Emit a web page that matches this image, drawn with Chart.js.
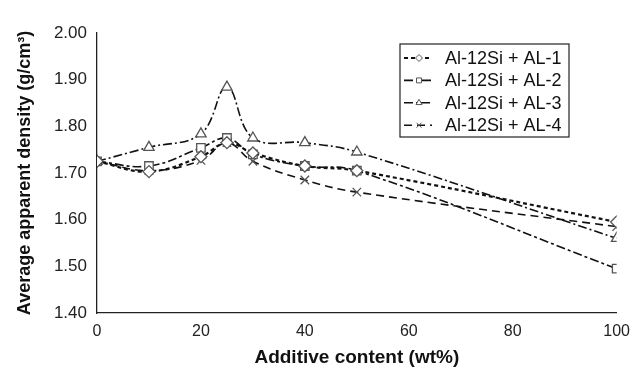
<!DOCTYPE html>
<html>
<head>
<meta charset="utf-8">
<script src="https://cdn.jsdelivr.net/npm/chart.js@4"></script>
<style>
  html, body { margin: 0; padding: 0; background: #fff; }
  #wrap { width: 634px; height: 373px; }
</style>
</head>
<body>
<div id="wrap"><canvas id="densityChart" width="634" height="373"></canvas></div>
<script>
// additive content (wt%)
const additive = [0, 10, 20, 25, 30, 40, 50, 100];

// average apparent density (g/cm3) for each mix
const al1 = [1.725, 1.703, 1.735, 1.765, 1.743, 1.715, 1.705, 1.595];
const al2 = [1.725, 1.715, 1.754, 1.775, 1.740, 1.715, 1.705, 1.495];
const al3 = [1.725, 1.755, 1.784, 1.884, 1.775, 1.765, 1.745, 1.560];
const al4 = [1.725, 1.705, 1.727, 1.765, 1.725, 1.685, 1.659, 1.585];

const seriesNames = ["Al-12Si + AL-1", "Al-12Si + AL-2", "Al-12Si + AL-3", "Al-12Si + AL-4"];
const xTicks = [0, 20, 40, 60, 80, 100];
const yTicks = [1.4, 1.5, 1.6, 1.7, 1.8, 1.9, 2.0];

const FONT = "'Liberation Sans', Arial, sans-serif";

function toPoints(values) {
  return additive.map((x, i) => ({ x: x, y: values[i] }));
}

const styles = [
  { dash: [4, 3], point: "rectRot", width: 2.2 },
  { dash: [9, 3, 3, 3], point: "rect", width: 1.6 },
  { dash: [9, 3, 2, 3], point: "triangle", width: 1.6 },
  { dash: [8, 5], point: "crossRot", width: 1.6 }
];

const datasets = [al1, al2, al3, al4].map((vals, i) => ({
  label: seriesNames[i],
  data: toPoints(vals),
  borderColor: "#111",
  borderWidth: styles[i].width,
  borderDash: styles[i].dash,
  tension: 0.4,
  pointStyle: styles[i].point,
  pointRadius: 6,
  pointBackgroundColor: "#fff",
  pointBorderColor: "#555",
  pointBorderWidth: 1.3
}));

// legend box drawn inside the plot, like the original figure
const boxLegend = {
  id: "boxLegend",
  afterDraw(chart) {
    const ctx = chart.ctx;
    const left = 400, top = 44, w = 169, h = 93, rowH = 22.4;
    ctx.save();
    ctx.fillStyle = "#fff";
    ctx.fillRect(left, top, w, h);
    ctx.strokeStyle = "#222";
    ctx.lineWidth = 1.2;
    ctx.setLineDash([]);
    ctx.strokeRect(left, top, w, h);
    chart.data.datasets.forEach((ds, i) => {
      const y = top + 14 + i * rowH;
      ctx.strokeStyle = "#111";
      ctx.lineWidth = ds.borderWidth;
      ctx.setLineDash(ds.borderDash);
      ctx.beginPath();
      ctx.moveTo(left + 4, y);
      ctx.lineTo(left + 32, y);
      ctx.stroke();
      ctx.setLineDash([]);
      ctx.fillStyle = "#fff";
      ctx.strokeStyle = "#555";
      ctx.lineWidth = 1;
      Chart.helpers.drawPoint(ctx, {
        pointStyle: ds.pointStyle,
        radius: 3.5,
        borderWidth: 1,
        rotation: 0
      }, left + 19, y);
      ctx.fillStyle = "#111";
      ctx.font = "18px " + FONT;
      ctx.textBaseline = "middle";
      ctx.fillText(ds.label, left + 45, y + 1);
    });
    ctx.restore();
  }
};

const config = {
  type: "line",
  data: { datasets: datasets },
  options: {
    responsive: false,
    animation: false,
    layout: { padding: { top: 33, right: 14, left: 0, bottom: 0 } },
    plugins: {
      legend: { display: false },
      tooltip: { enabled: false }
    },
    scales: {
      x: {
        type: "linear",
        min: 0,
        max: 100,
        afterBuildTicks(axis) {
          axis.ticks = xTicks.map(v => ({ value: v }));
        },
        afterFit(axis) { axis.height = 60; },
        grid: { display: false, drawTicks: true, tickLength: 5, tickColor: "#222" },
        border: { display: true, color: "#222", width: 1.3 },
        ticks: { color: "#222", font: { family: FONT, size: 16 }, padding: 4, maxRotation: 0 },
        title: {
          display: true,
          text: "Additive content (wt%)",
          color: "#111",
          font: { family: FONT, size: 19, weight: "bold" },
          padding: { top: 2 }
        }
      },
      y: {
        min: 1.4,
        max: 2.0,
        afterBuildTicks(axis) {
          axis.ticks = yTicks.map(v => ({ value: v }));
        },
        afterFit(axis) { axis.width = 97; },
        grid: { display: false, drawTicks: true, tickLength: 5, tickColor: "#222" },
        border: { display: true, color: "#222", width: 1.3 },
        ticks: {
          color: "#222",
          font: { family: FONT, size: 17 },
          padding: 5,
          callback: v => Number(v).toFixed(2)
        },
        title: {
          display: true,
          text: "Average apparent density (g/cm³)",
          color: "#111",
          font: { family: FONT, size: 18, weight: "bold" },
          padding: { top: 14, bottom: 4 }
        }
      }
    }
  },
  plugins: [boxLegend]
};

const ctx = document.getElementById("densityChart").getContext("2d");
const densityChart = new Chart(ctx, config);
</script>
</body>
</html>
